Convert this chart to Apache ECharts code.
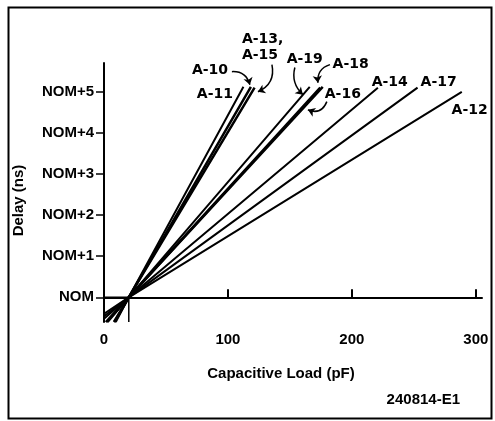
<!DOCTYPE html>
<html>
<head>
<meta charset="utf-8">
<script src="https://cdn.jsdelivr.net/npm/echarts@6/dist/echarts.min.js"></script>
<style>html,body{margin:0;padding:0;background:#fff}#c{width:495px;height:421px}</style>
</head>
<body>
<div id="c"></div>
<script>
// ---- data (delay relative to NOM, in ns; load in pF) ----
const lineNames   = ['A-11', 'A-10', 'A-13, A-15', 'A-19', 'A-18', 'A-16', 'A-14', 'A-17', 'A-12'];
const startPoints = [[9.5,-0.6],[8.5,-0.6],[8,-0.6],[3,-0.6],[2,-0.6],[1.5,-0.6],[0,-0.52],[0,-0.46],[0,-0.4]];
const pivotPoint  = [20, 0];
const endPoints   = [[112.5,5.12],[118.5,5.12],[121.5,5.1],[166,5.12],[174.5,5.1],[176.5,5.12],[221,5.1],[253,5.1],[288.7,5.0]];
const lineWidths  = [2, 2.5, 2.5, 2, 2.5, 2.5, 2, 2, 2];
const nomBox      = [[0,0],[20,0],[20,-0.6]];

const yTickValues = [0, 1, 2, 3, 4, 5];
const yTickLabels = ['NOM', 'NOM+1', 'NOM+2', 'NOM+3', 'NOM+4', 'NOM+5'];
const xTickValues = [0, 100, 200, 300];

const labelTexts = ['A-13,\nA-15', 'A-10', 'A-11', 'A-19', 'A-18', 'A-16', 'A-14', 'A-17', 'A-12'];
const labelX     = [111.3, 85.5, 89.5, 162, 199, 192.7, 230.6, 270, 295];
const labelY     = [6.07, 5.51, 4.93, 5.8, 5.66, 4.93, 5.24, 5.24, 4.54];

const arrowFrom  = [[103.2,5.49],[135.5,5.66],[154,5.59],[182.3,5.66],[179.8,4.76]];
const arrowTo    = [[117.7,5.17],[124.2,5.0],[160.5,4.93],[172.6,5.22],[164.5,4.56]];
const arrowCurve = [0.4, 0.4, -0.3, -0.4, 0.5];

const FONT = 'Liberation Sans';
const LFONT = 'DejaVu Sans';
const chart = echarts.init(document.getElementById('c'));

const series = [];
lineNames.forEach((n, i) => {
  series.push({
    name: n, type: 'line', symbol: 'none', clip: true, silent: true,
    lineStyle: { color: '#000', width: lineWidths[i] },
    data: [startPoints[i], pivotPoint, endPoints[i]]
  });
});
series.push({
  name: 'NOM box', type: 'line', symbol: 'none', silent: true,
  lineStyle: { color: '#000', width: 1.5 }, data: nomBox
});
series.push({
  name: 'labels', type: 'scatter', symbolSize: 0, clip: false, silent: true,
  itemStyle: { opacity: 1, color: '#000' },
  data: labelTexts.map((t, i) => ({
    value: [labelX[i], labelY[i]],
    label: {
      show: true, formatter: t, position: 'inside',
      align: i === 0 ? 'left' : 'center', verticalAlign: 'middle',
      fontFamily: LFONT, fontWeight: 'bold', fontSize: 14, color: '#000', lineHeight: 16,
      textBorderWidth: 0
    }
  }))
});
series.push({
  name: 'arrows', type: 'lines', coordinateSystem: 'cartesian2d', clip: false, silent: true,
  symbol: ['none', 'arrow'], symbolSize: 7,
  lineStyle: { color: '#000', width: 1.5, opacity: 1 },
  data: arrowFrom.map((f, i) => ({ coords: [f, arrowTo[i]], lineStyle: { curveness: arrowCurve[i] } }))
});

chart.setOption({
  animation: false,
  backgroundColor: '#fff',
  grid: { left: 104, right: 13, top: 63, bottom: 99 },
  xAxis: {
    type: 'value', min: 0, max: 305,
    name: 'Capacitive Load (pF)', nameLocation: 'middle', nameGap: 44,
    nameTextStyle: { fontFamily: FONT, fontWeight: 'bold', fontSize: 15, color: '#000', padding: [0, 24, 0, 0] },
    axisLine: { show: true, lineStyle: { color: '#000', width: 2 } },
    axisTick: { show: true, inside: true, length: 8, customValues: xTickValues, lineStyle: { color: '#000', width: 2 } },
    axisLabel: { customValues: xTickValues, margin: 10, fontFamily: FONT, fontWeight: 'bold', fontSize: 15, color: '#000' },
    splitLine: { show: false }
  },
  yAxis: {
    type: 'value', min: -0.6, max: 5.7,
    name: 'Delay (ns)', nameLocation: 'middle', nameGap: 78, nameRotate: 90,
    nameTextStyle: { fontFamily: FONT, fontWeight: 'bold', fontSize: 15, color: '#000', padding: [0, 16, 0, 0] },
    axisLine: { show: true, lineStyle: { color: '#000', width: 2 } },
    axisTick: { show: true, inside: false, length: 8, customValues: yTickValues, lineStyle: { color: '#000', width: 1.5 } },
    axisLabel: {
      customValues: yTickValues, margin: 10, fontFamily: FONT, fontWeight: 'bold', fontSize: 15, color: '#000',
      formatter: v => yTickLabels[yTickValues.indexOf(Math.round(v))]
    },
    splitLine: { show: false }
  },
  graphic: [
    { type: 'rect', left: 6, top: 5, shape: { width: 483, height: 411 }, style: { fill: 'none', stroke: '#000', lineWidth: 2 }, silent: true },
    { type: 'text', right: 35, top: 392, style: { text: '240814-E1', fontFamily: FONT, fontWeight: 'bold', fontSize: 15, fill: '#000' } }
  ],
  series: series
});
</script>
</body>
</html>
